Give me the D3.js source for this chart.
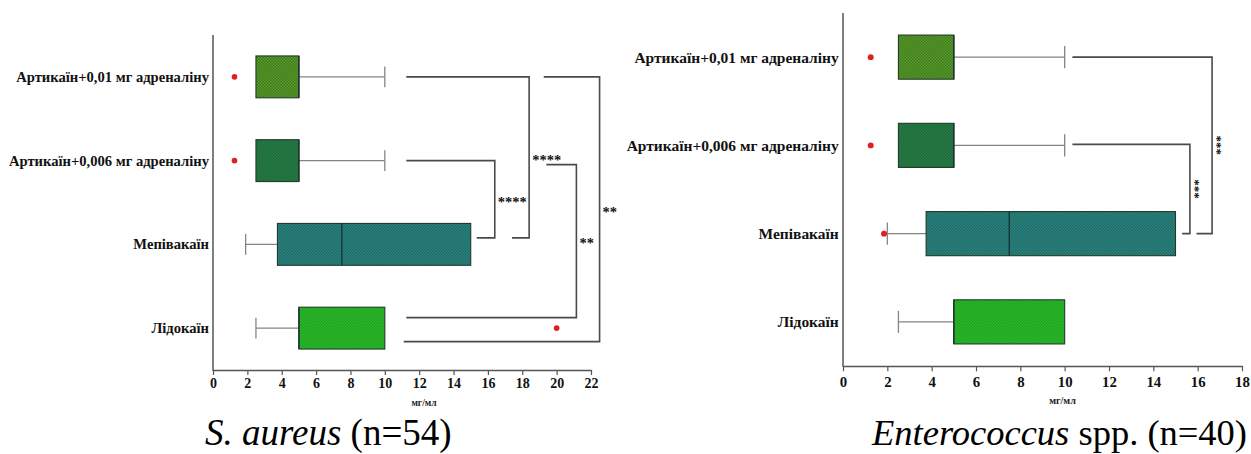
<!DOCTYPE html>
<html>
<head>
<meta charset="utf-8">
<script src="https://cdn.jsdelivr.net/npm/d3@7"></script>
<style>
  html, body { margin: 0; padding: 0; background: #ffffff; }
  svg { display: block; }
</style>
</head>
<body>
<svg id="chart" width="1251" height="454"></svg>
<script>
// ---- data -------------------------------------------------------------
const categories = [
  "Артикаїн+0,01 мг адреналіну",
  "Артикаїн+0,006 мг адреналіну",
  "Мепівакаїн",
  "Лідокаїн"
];

// S. aureus (n=54), MIC values in мг/мл
const aureusLow      = [2.5, 2.5, 1.9, 2.5];
const aureusQ1       = [2.5, 2.5, 3.75, 5];
const aureusMedian   = [5, 5, 7.5, 5];
const aureusQ3       = [5, 5, 15, 10];
const aureusHigh     = [10, 10, 15, 10];
const aureusOutliers = [[1.25], [1.25], [], [20]];
const aureusTicks    = [0, 2, 4, 6, 8, 10, 12, 14, 16, 18, 20, 22];
const aureusTests    = [
  { from: 1, to: 2, label: "****" },
  { from: 0, to: 2, label: "****" },
  { from: 1, to: 3, label: "**" },
  { from: 0, to: 3, label: "**" }
];

// Enterococcus spp. (n=40)
const enteroLow      = [2.5, 2.5, 2.0, 2.5];
const enteroQ1       = [2.5, 2.5, 3.75, 5];
const enteroMedian   = [5, 5, 7.5, 5];
const enteroQ3       = [5, 5, 15, 10];
const enteroHigh     = [10, 10, 15, 10];
const enteroOutliers = [[1.25], [1.25], [1.85], []];
const enteroTicks    = [0, 2, 4, 6, 8, 10, 12, 14, 16, 18];
const enteroTests    = [
  { from: 1, to: 2, label: "***" },
  { from: 0, to: 2, label: "***" }
];

const axisLabel = "мг/мл";

// ---- styling ----------------------------------------------------------
const boxFills = [
  { id: "fill-art01",  base: "#3d7b1c", dot: "#5a9b2c" },
  { id: "fill-art006", base: "#1a6a38", dot: "#2a7c48" },
  { id: "fill-mepi",   base: "#1d6a67", dot: "#2d8480" },
  { id: "fill-lido",   base: "#2cbb2c", dot: "#1e9f1e" }
];
const SERIF = "Liberation Serif, Tinos, Times New Roman, DejaVu Serif, Noto Serif, serif";
const AXIS_COLOR = "#555555";
const WHISKER_COLOR = "#858585";
const BRACKET_COLOR = "#4a4a4a";
const OUTLIER_COLOR = "#e01e1e";

const svg = d3.select("#chart");
const defs = svg.append("defs");

// small dotted texture for the boxes
boxFills.forEach(f => {
  const p = defs.append("pattern")
    .attr("id", f.id)
    .attr("patternUnits", "userSpaceOnUse")
    .attr("width", 3).attr("height", 3);
  p.append("rect").attr("width", 3).attr("height", 3).attr("fill", f.base);
  p.append("rect").attr("x", 0).attr("y", 0).attr("width", 1.5).attr("height", 1.5).attr("fill", f.dot);
  p.append("rect").attr("x", 1.5).attr("y", 1.5).attr("width", 1.5).attr("height", 1.5).attr("fill", f.dot);
});

function drawPanel(p) {
  const k = p.k;
  const x = d3.scaleLinear().domain([0, p.max]).range([p.left, p.right]);
  const y = d3.scaleBand().domain(categories)
    .range([p.top, p.bottom]).paddingInner(0.5).paddingOuter(0.25);
  const bw = y.bandwidth();
  const cy = i => y(categories[i]) + bw / 2;

  const g = svg.append("g").attr("font-family", SERIF);

  // x axis
  const xAxis = d3.axisBottom(x)
    .tickValues(p.ticks)
    .tickFormat(d3.format("d"))
    .tickSize(5 * k)
    .tickSizeOuter(0)
    .tickPadding(p.tickPad);
  const ax = g.append("g")
    .attr("transform", `translate(0,${p.bottom})`)
    .call(xAxis)
    .attr("font-family", SERIF)
    .attr("font-size", 14 * k)
    .attr("font-weight", "bold");
  ax.select(".domain").attr("stroke", AXIS_COLOR).attr("stroke-width", 1.5);
  ax.selectAll(".tick line").attr("stroke", AXIS_COLOR).attr("stroke-width", 1.2);
  ax.selectAll(".tick text").attr("fill", "#111");

  // y axis line
  g.append("line")
    .attr("x1", p.left).attr("x2", p.left)
    .attr("y1", p.top).attr("y2", p.bottom + 0.75)
    .attr("stroke", AXIS_COLOR).attr("stroke-width", 1.5);

  // axis unit label
  g.append("text")
    .attr("x", (p.left + p.right) / 2 + p.unitShift)
    .attr("y", p.bottom + 36 * k)
    .attr("text-anchor", "middle")
    .attr("font-weight", "bold")
    .attr("font-size", 9.5 * k)
    .attr("fill", "#222")
    .text(axisLabel);

  // category labels
  g.selectAll("text.cat")
    .data(categories)
    .join("text")
    .attr("class", "cat")
    .attr("x", p.left - 4 * k)
    .attr("y", (d, i) => cy(i))
    .attr("dy", "0.35em")
    .attr("text-anchor", "end")
    .attr("font-weight", "bold")
    .attr("font-size", 14.6 * k)
    .attr("fill", "#111")
    .text(d => d);

  // box plots
  const rows = categories.map((c, i) => ({
    i, low: p.low[i], q1: p.q1[i], med: p.median[i], q3: p.q3[i], high: p.high[i],
    out: p.outliers[i]
  }));

  rows.forEach(r => {
    const yc = cy(r.i);
    const cap = bw / 2;
    // lower whisker
    if (r.low < r.q1) {
      g.append("line").attr("x1", x(r.low)).attr("x2", x(r.q1)).attr("y1", yc).attr("y2", yc)
        .attr("stroke", WHISKER_COLOR).attr("stroke-width", 1.3);
      g.append("line").attr("x1", x(r.low)).attr("x2", x(r.low)).attr("y1", yc - cap / 2).attr("y2", yc + cap / 2)
        .attr("stroke", WHISKER_COLOR).attr("stroke-width", 1.3);
    }
    // upper whisker
    if (r.high > r.q3) {
      g.append("line").attr("x1", x(r.q3)).attr("x2", x(r.high)).attr("y1", yc).attr("y2", yc)
        .attr("stroke", WHISKER_COLOR).attr("stroke-width", 1.3);
      g.append("line").attr("x1", x(r.high)).attr("x2", x(r.high)).attr("y1", yc - cap / 2).attr("y2", yc + cap / 2)
        .attr("stroke", WHISKER_COLOR).attr("stroke-width", 1.3);
    }
    // box
    g.append("rect")
      .attr("x", x(r.q1)).attr("y", y(categories[r.i]))
      .attr("width", x(r.q3) - x(r.q1)).attr("height", bw)
      .attr("fill", `url(#${boxFills[r.i].id})`)
      .attr("stroke", "#233a2a").attr("stroke-width", 1.1);
    // median
    g.append("line")
      .attr("x1", x(r.med)).attr("x2", x(r.med))
      .attr("y1", y(categories[r.i])).attr("y2", y(categories[r.i]) + bw)
      .attr("stroke", "#183030").attr("stroke-width", 1.3);
    // outliers
    r.out.forEach(v => {
      g.append("circle").attr("cx", x(v)).attr("cy", yc).attr("r", 2.8 * k)
        .attr("fill", OUTLIER_COLOR);
    });
  });

  // significance brackets
  p.tests.forEach((t, j) => {
    const L = p.bracketLayout[j];
    const yTop = cy(t.from) + L.dyTop;
    const yBot = cy(t.to) + L.dyBottom;
    const path = d3.path();
    path.moveTo(x(L.start), yTop);
    path.lineTo(x(L.line), yTop);
    path.lineTo(x(L.line), yBot);
    path.lineTo(x(L.end), yBot);
    g.append("path").attr("d", path.toString())
      .attr("fill", "none").attr("stroke", BRACKET_COLOR).attr("stroke-width", 1.6);

    const mid = (yTop + yBot) / 2;
    const fs = p.starSize;
    if (p.rotateStars) {
      const cx = x(L.line) + 7 * k;
      g.append("text")
        .attr("x", cx).attr("y", mid)
        .attr("dy", 0.5 * fs)
        .attr("text-anchor", "middle")
        .attr("transform", `rotate(90,${cx},${mid})`)
        .attr("font-weight", "bold")
        .attr("font-size", fs).attr("fill", "#111")
        .text(t.label);
    } else {
      g.append("text")
        .attr("x", x(L.line) + 3).attr("y", mid)
        .attr("dy", 0.5 * fs)
        .attr("text-anchor", "start")
        .attr("font-weight", "bold")
        .attr("font-size", fs).attr("fill", "#111")
        .text(t.label);
    }
  });

  // panel title
  const title = g.append("text")
    .attr("x", p.titleX).attr("y", 445)
    .attr("font-size", p.titleSize)
    .attr("fill", "#000");
  title.append("tspan").attr("font-style", "italic").text(p.titleItalic);
  title.append("tspan").text(p.titleRest);
}

drawPanel({
  k: 1, left: 213, right: 591, top: 35, bottom: 370, max: 22,
  ticks: aureusTicks, tickPad: 3, unitShift: 22,
  low: aureusLow, q1: aureusQ1, median: aureusMedian, q3: aureusQ3, high: aureusHigh,
  outliers: aureusOutliers, tests: aureusTests,
  starSize: 14.5, rotateStars: false,
  bracketLayout: [
    { start: 11.25, line: 16.4,  end: 15.35, dyTop: 0, dyBottom: -6.5 },
    { start: 11.25, line: 18.4,  end: 17.4,  dyTop: 0, dyBottom: -6.5 },
    { start: 19.4,  line: 21.15, end: 11.25, dyTop: 4, dyBottom: -10.5 },
    { start: 19.25, line: 22.5,  end: 11.1,  dyTop: 0, dyBottom: 13.5 }
  ],
  titleX: 205, titleSize: 37, titleItalic: "S. aureus", titleRest: " (n=54)"
});

drawPanel({
  k: 1.06, left: 843, right: 1242, top: 13, bottom: 366, max: 18,
  ticks: enteroTicks, tickPad: 5, unitShift: 20,
  low: enteroLow, q1: enteroQ1, median: enteroMedian, q3: enteroQ3, high: enteroHigh,
  outliers: enteroOutliers, tests: enteroTests,
  starSize: 13, rotateStars: true,
  bracketLayout: [
    { start: 10.35, line: 15.65, end: 15.3,  dyTop: -1, dyBottom: 0 },
    { start: 10.35, line: 16.65, end: 15.95, dyTop: 0,  dyBottom: 0 }
  ],
  titleX: 872, titleSize: 36.5, titleItalic: "Enterococcus", titleRest: " spp. (n=40)"
});
</script>
</body>
</html>
